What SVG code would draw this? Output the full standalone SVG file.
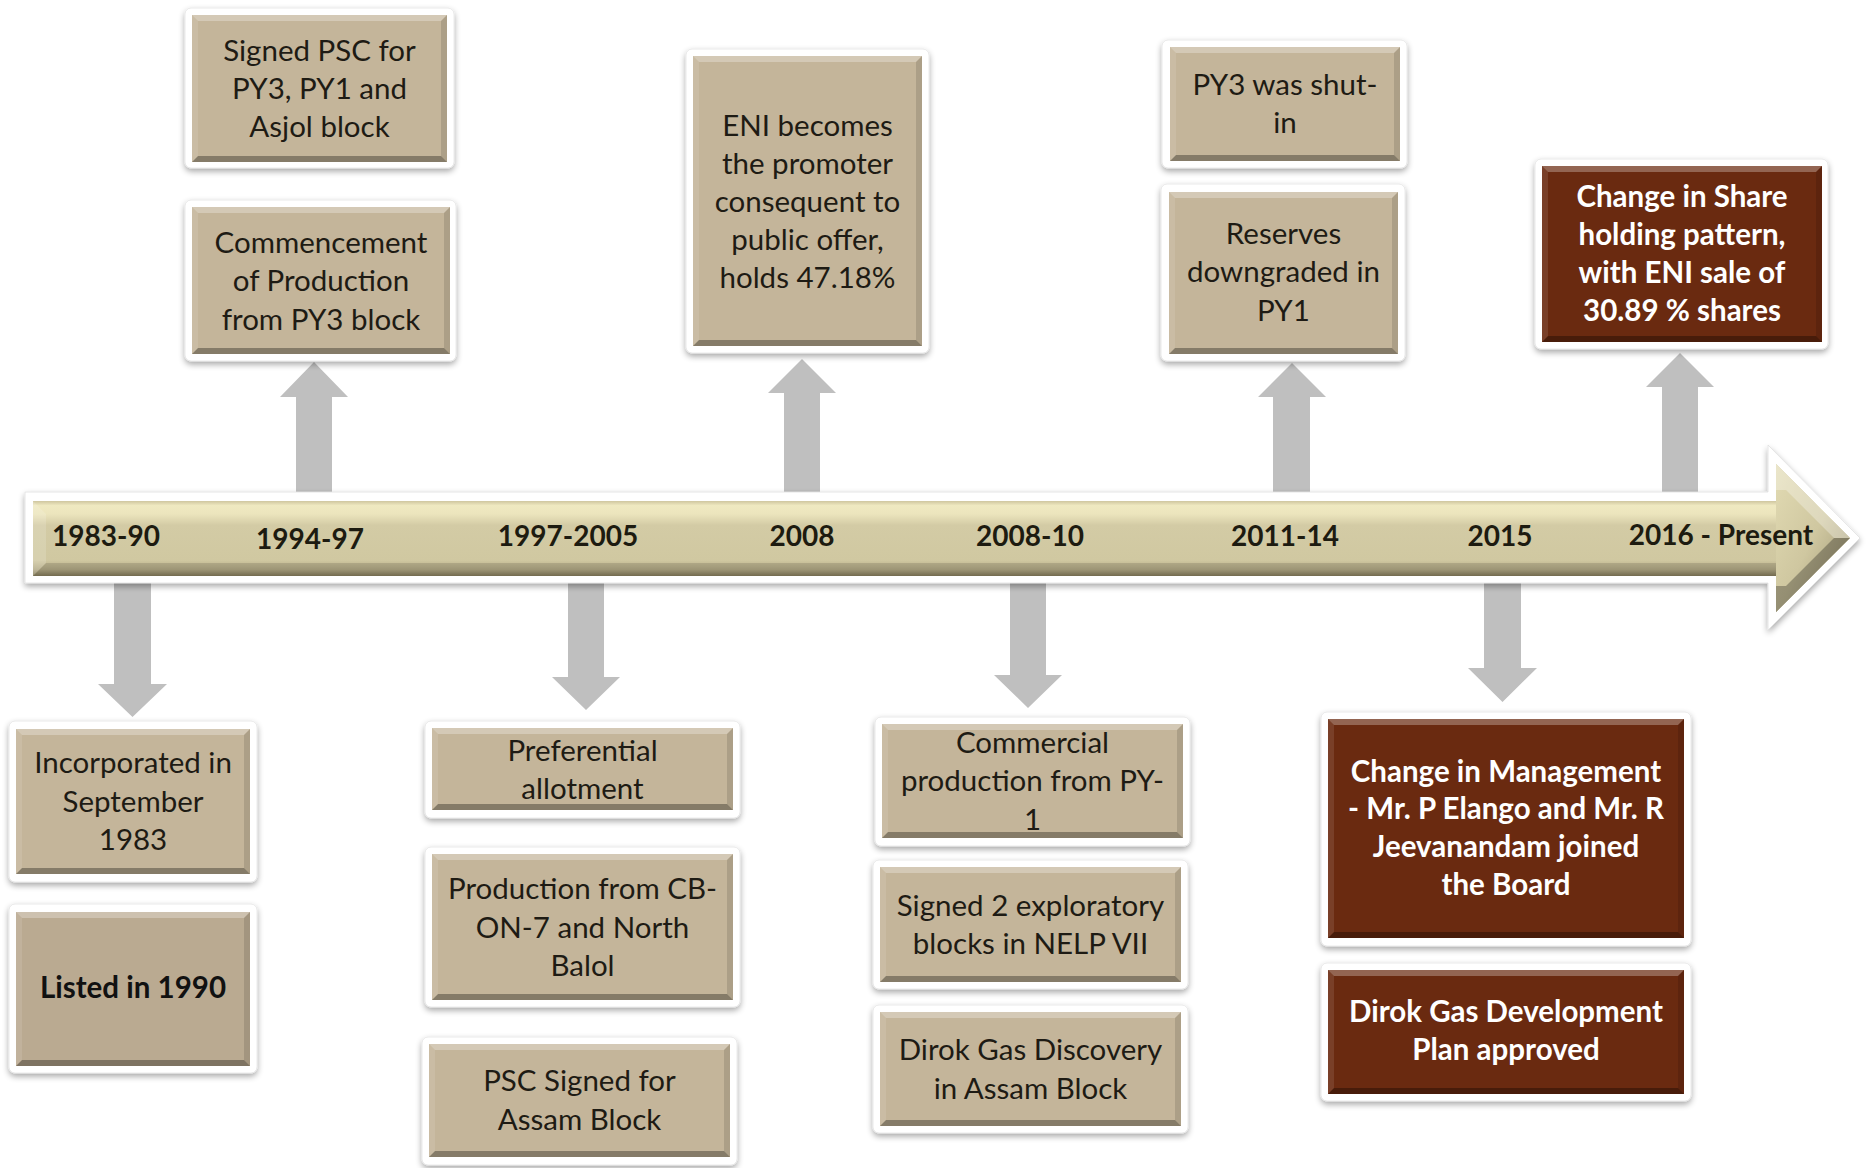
<svg xmlns="http://www.w3.org/2000/svg" width="1874" height="1168" viewBox="0 0 1874 1168">
<defs>
  <filter id="sh" x="-10%" y="-10%" width="120%" height="130%">
    <feGaussianBlur in="SourceAlpha" stdDeviation="3"/>
    <feOffset dx="0" dy="3" result="b"/>
    <feComponentTransfer><feFuncA type="linear" slope="0.35"/></feComponentTransfer>
    <feMerge><feMergeNode/><feMergeNode in="SourceGraphic"/></feMerge>
  </filter>
  <linearGradient id="barG" gradientUnits="userSpaceOnUse" x1="0" y1="501" x2="0" y2="577">
    <stop offset="0" stop-color="#CFC69F"/>
    <stop offset="0.06" stop-color="#EFE9C1"/>
    <stop offset="0.17" stop-color="#ECE5BD"/>
    <stop offset="0.32" stop-color="#D3CBA5"/>
    <stop offset="0.78" stop-color="#D0C8A1"/>
    <stop offset="0.9" stop-color="#B4AB87"/>
    <stop offset="1" stop-color="#7C7354"/>
  </linearGradient>
  <linearGradient id="headG" x1="0" y1="0" x2="1" y2="1">
    <stop offset="0" stop-color="#E2DBB3"/>
    <stop offset="0.5" stop-color="#CFC7A0"/>
    <stop offset="1" stop-color="#9A9170"/>
  </linearGradient>
</defs>
<style>
  .frame{fill:#ffffff;stroke:#e4e4e4;stroke-width:0.8;filter:url(#sh)}
  .tan{fill:#C4B59A}
  .tanB{fill:#BAAA91}
  .brown{fill:#6A2A10}
  .bt{fill:#ffffff;fill-opacity:0.28}
  .bl{fill:#ffffff;fill-opacity:0.10}
  .br{fill:#000000;fill-opacity:0.12}
  .bb{fill:#000000;fill-opacity:0.32}
  .t{font-family:Lato,"Open Sans","Liberation Sans",sans-serif;font-size:29.5px;fill:#1E1B14;text-anchor:middle}
  .tb{font-family:Lato,"Open Sans","Liberation Sans",sans-serif;font-size:29.5px;font-weight:bold;fill:#111111;text-anchor:middle}
  .tw{font-family:Lato,"Open Sans","Liberation Sans",sans-serif;font-size:29.5px;font-weight:bold;fill:#ffffff;text-anchor:middle}
  .yr{font-family:Lato,"Open Sans","Liberation Sans",sans-serif;font-size:28px;font-weight:bold;fill:#1D1B10;text-anchor:middle}
  .arr{fill:#BFBFBF}
</style>
<rect width="1874" height="1168" fill="#ffffff"/>

<g id="connectors">
  <path class="arr" d="M296,505 V397 H280 L314,362 L348,397 H332 V505 Z"/>
  <path class="arr" d="M784,505 V393 H768 L802,359 L836,393 H820 V505 Z"/>
  <path class="arr" d="M1273,505 V397 H1258 L1292,363 L1326,397 H1310 V505 Z"/>
  <path class="arr" d="M1662,505 V387 H1646 L1680,353 L1714,387 H1698 V505 Z"/>
  <path class="arr" d="M114,570 V684 H98 L132.5,717 L167,684 H151 V570 Z"/>
  <path class="arr" d="M568,570 V677 H552 L586,710 L620,677 H604 V570 Z"/>
  <path class="arr" d="M1010,570 V675 H994 L1028,708 L1062,675 H1046 V570 Z"/>
  <path class="arr" d="M1484,570 V668 H1468 L1502.5,702 L1537,668 H1521 V570 Z"/>
</g>

<g id="timeline">
  <path d="M25,492 H1768 V445 L1860,538 L1768,630 V583 H25 Z" fill="#ffffff" stroke="#e0e0e0" stroke-width="0.8" filter="url(#sh)"/>
  <path d="M33,501 H1776 V464 L1850,538 L1776,612 V576 H33 Z" fill="url(#barG)"/>
  <path d="M1776,464 L1850,538 L1776,612 Z" fill="url(#headG)"/>
  <path d="M1776,464 L1850,538 L1834,538 L1786,490 L1776,490 Z" fill="#ffffff" fill-opacity="0.3"/>
  <path d="M1776,612 L1850,538 L1834,538 L1786,586 L1776,586 Z" fill="#000000" fill-opacity="0.28"/>
  <path d="M33,501 L46,514 V563 L33,576 Z" fill="#ffffff" fill-opacity="0.15"/>
  <path d="M33,576 L46,563 H1776 V576 Z" fill="#000000" fill-opacity="0.12"/>
  <text class="yr" x="106" y="546">1983-90</text>
  <text class="yr" x="310" y="549">1994-97</text>
  <text class="yr" x="568" y="546">1997-2005</text>
  <text class="yr" x="802" y="546">2008</text>
  <text class="yr" x="1030" y="546">2008-10</text>
  <text class="yr" x="1285" y="546">2011-14</text>
  <text class="yr" x="1500" y="546">2015</text>
  <text class="yr" x="1721" y="545">2016 - Present</text>
</g>

<g id="n-signed-psc">
  <rect class="frame" x="185" y="8" width="269" height="160" rx="6"/>
  <rect class="tan" x="192" y="15" width="255" height="147"/>
  <path class="bt" d="M192,15 h255 l-6,6 h-243 z"/>
  <path class="bb" d="M192,162 h255 l-6,-6 h-243 z"/>
  <path class="bl" d="M192,15 v147 l6,-6 v-135 z"/>
  <path class="br" d="M447,15 v147 l-6,-6 v-135 z"/>
  <text class="t" x="319.5" y="61">Signed PSC for</text>
  <text class="t" x="319.5" y="99">PY3, PY1 and</text>
  <text class="t" x="319.5" y="137">Asjol block</text>
</g>

<g id="n-commencement">
  <rect class="frame" x="185" y="200" width="271" height="161" rx="6"/>
  <rect class="tan" x="192" y="207" width="258" height="147"/>
  <path class="bt" d="M192,207 h258 l-6,6 h-246 z"/>
  <path class="bb" d="M192,354 h258 l-6,-6 h-246 z"/>
  <path class="bl" d="M192,207 v147 l6,-6 v-135 z"/>
  <path class="br" d="M450,207 v147 l-6,-6 v-135 z"/>
  <text class="t" x="321" y="253">Commencement</text>
  <text class="t" x="321" y="291">of Production</text>
  <text class="t" x="321" y="330">from PY3 block</text>
</g>

<g id="n-eni">
  <rect class="frame" x="686" y="49" width="243" height="304" rx="6"/>
  <rect class="tan" x="693" y="56" width="229" height="290"/>
  <path class="bt" d="M693,56 h229 l-6,6 h-217 z"/>
  <path class="bb" d="M693,346 h229 l-6,-6 h-217 z"/>
  <path class="bl" d="M693,56 v290 l6,-6 v-278 z"/>
  <path class="br" d="M922,56 v290 l-6,-6 v-278 z"/>
  <text class="t" x="807.5" y="136">ENI becomes</text>
  <text class="t" x="807.5" y="174">the promoter</text>
  <text class="t" x="807.5" y="212">consequent to</text>
  <text class="t" x="807.5" y="250">public offer,</text>
  <text class="t" x="807.5" y="288">holds 47.18%</text>
</g>

<g id="n-py3-shut">
  <rect class="frame" x="1162" y="40" width="245" height="128" rx="6"/>
  <rect class="tan" x="1170" y="47" width="230" height="114"/>
  <path class="bt" d="M1170,47 h230 l-6,6 h-218 z"/>
  <path class="bb" d="M1170,161 h230 l-6,-6 h-218 z"/>
  <path class="bl" d="M1170,47 v114 l6,-6 v-102 z"/>
  <path class="br" d="M1400,47 v114 l-6,-6 v-102 z"/>
  <text class="t" x="1285" y="95">PY3 was shut-</text>
  <text class="t" x="1285" y="133">in</text>
</g>

<g id="n-reserves">
  <rect class="frame" x="1161" y="184" width="244" height="177" rx="6"/>
  <rect class="tan" x="1169" y="192" width="229" height="162"/>
  <path class="bt" d="M1169,192 h229 l-6,6 h-217 z"/>
  <path class="bb" d="M1169,354 h229 l-6,-6 h-217 z"/>
  <path class="bl" d="M1169,192 v162 l6,-6 v-150 z"/>
  <path class="br" d="M1398,192 v162 l-6,-6 v-150 z"/>
  <text class="t" x="1283.5" y="244">Reserves</text>
  <text class="t" x="1283.5" y="282">downgraded in</text>
  <text class="t" x="1283.5" y="321">PY1</text>
</g>

<g id="n-share-change">
  <rect class="frame" x="1535" y="159" width="293" height="190" rx="6"/>
  <rect class="brown" x="1542" y="166" width="280" height="176"/>
  <path class="bt" d="M1542,166 h280 l-6,6 h-268 z"/>
  <path class="bb" d="M1542,342 h280 l-6,-6 h-268 z"/>
  <path class="bl" d="M1542,166 v176 l6,-6 v-164 z"/>
  <path class="br" d="M1822,166 v176 l-6,-6 v-164 z"/>
  <text class="tw" x="1682" y="207">Change in Share</text>
  <text class="tw" x="1682" y="245">holding pattern,</text>
  <text class="tw" x="1682" y="283">with ENI sale of</text>
  <text class="tw" x="1682" y="321">30.89 % shares</text>
</g>

<g id="n-incorporated">
  <rect class="frame" x="9" y="721" width="248" height="161" rx="6"/>
  <rect class="tan" x="16" y="729" width="234" height="145"/>
  <path class="bt" d="M16,729 h234 l-6,6 h-222 z"/>
  <path class="bb" d="M16,874 h234 l-6,-6 h-222 z"/>
  <path class="bl" d="M16,729 v145 l6,-6 v-133 z"/>
  <path class="br" d="M250,729 v145 l-6,-6 v-133 z"/>
  <text class="t" x="133" y="773">Incorporated in</text>
  <text class="t" x="133" y="812">September</text>
  <text class="t" x="133" y="850">1983</text>
</g>

<g id="n-listed">
  <rect class="frame" x="9" y="904" width="248" height="169" rx="6"/>
  <rect class="tanB" x="16" y="912" width="234" height="154"/>
  <path class="bt" d="M16,912 h234 l-6,6 h-222 z"/>
  <path class="bb" d="M16,1066 h234 l-6,-6 h-222 z"/>
  <path class="bl" d="M16,912 v154 l6,-6 v-142 z"/>
  <path class="br" d="M250,912 v154 l-6,-6 v-142 z"/>
  <text class="tb" x="133" y="998">Listed in 1990</text>
</g>

<g id="n-preferential">
  <rect class="frame" x="425" y="721" width="315" height="97" rx="6"/>
  <rect class="tan" x="432" y="728" width="301" height="82"/>
  <path class="bt" d="M432,728 h301 l-6,6 h-289 z"/>
  <path class="bb" d="M432,810 h301 l-6,-6 h-289 z"/>
  <path class="bl" d="M432,728 v82 l6,-6 v-70 z"/>
  <path class="br" d="M733,728 v82 l-6,-6 v-70 z"/>
  <text class="t" x="582.5" y="761">Preferential</text>
  <text class="t" x="582.5" y="799">allotment</text>
</g>

<g id="n-production-cb">
  <rect class="frame" x="425" y="847" width="315" height="160" rx="6"/>
  <rect class="tan" x="432" y="854" width="301" height="146"/>
  <path class="bt" d="M432,854 h301 l-6,6 h-289 z"/>
  <path class="bb" d="M432,1000 h301 l-6,-6 h-289 z"/>
  <path class="bl" d="M432,854 v146 l6,-6 v-134 z"/>
  <path class="br" d="M733,854 v146 l-6,-6 v-134 z"/>
  <text class="t" x="582.5" y="899">Production from CB-</text>
  <text class="t" x="582.5" y="938">ON-7 and North</text>
  <text class="t" x="582.5" y="976">Balol</text>
</g>

<g id="n-psc-assam">
  <rect class="frame" x="422" y="1037" width="315" height="128" rx="6"/>
  <rect class="tan" x="429" y="1044" width="301" height="113"/>
  <path class="bt" d="M429,1044 h301 l-6,6 h-289 z"/>
  <path class="bb" d="M429,1157 h301 l-6,-6 h-289 z"/>
  <path class="bl" d="M429,1044 v113 l6,-6 v-101 z"/>
  <path class="br" d="M730,1044 v113 l-6,-6 v-101 z"/>
  <text class="t" x="579.5" y="1091">PSC Signed for</text>
  <text class="t" x="579.5" y="1130">Assam Block</text>
</g>

<g id="n-commercial">
  <rect class="frame" x="875" y="717" width="315" height="129" rx="6"/>
  <rect class="tan" x="882" y="724" width="301" height="114"/>
  <path class="bt" d="M882,724 h301 l-6,6 h-289 z"/>
  <path class="bb" d="M882,838 h301 l-6,-6 h-289 z"/>
  <path class="bl" d="M882,724 v114 l6,-6 v-102 z"/>
  <path class="br" d="M1183,724 v114 l-6,-6 v-102 z"/>
  <text class="t" x="1032.5" y="753">Commercial</text>
  <text class="t" x="1032.5" y="791">production from PY-</text>
  <text class="t" x="1032.5" y="830">1</text>
</g>

<g id="n-signed-2">
  <rect class="frame" x="873" y="860" width="315" height="129" rx="6"/>
  <rect class="tan" x="880" y="867" width="301" height="115"/>
  <path class="bt" d="M880,867 h301 l-6,6 h-289 z"/>
  <path class="bb" d="M880,982 h301 l-6,-6 h-289 z"/>
  <path class="bl" d="M880,867 v115 l6,-6 v-103 z"/>
  <path class="br" d="M1181,867 v115 l-6,-6 v-103 z"/>
  <text class="t" x="1030.5" y="916">Signed 2 exploratory</text>
  <text class="t" x="1030.5" y="954">blocks in NELP VII</text>
</g>

<g id="n-dirok-discovery">
  <rect class="frame" x="873" y="1005" width="315" height="128" rx="6"/>
  <rect class="tan" x="880" y="1012" width="301" height="114"/>
  <path class="bt" d="M880,1012 h301 l-6,6 h-289 z"/>
  <path class="bb" d="M880,1126 h301 l-6,-6 h-289 z"/>
  <path class="bl" d="M880,1012 v114 l6,-6 v-102 z"/>
  <path class="br" d="M1181,1012 v114 l-6,-6 v-102 z"/>
  <text class="t" x="1030.5" y="1060">Dirok Gas Discovery</text>
  <text class="t" x="1030.5" y="1099">in Assam Block</text>
</g>

<g id="n-management">
  <rect class="frame" x="1321" y="712" width="370" height="234" rx="6"/>
  <rect class="brown" x="1328" y="719" width="356" height="219"/>
  <path class="bt" d="M1328,719 h356 l-6,6 h-344 z"/>
  <path class="bb" d="M1328,938 h356 l-6,-6 h-344 z"/>
  <path class="bl" d="M1328,719 v219 l6,-6 v-207 z"/>
  <path class="br" d="M1684,719 v219 l-6,-6 v-207 z"/>
  <text class="tw" x="1506" y="782">Change in Management</text>
  <text class="tw" x="1506" y="819">- Mr. P Elango and Mr. R</text>
  <text class="tw" x="1506" y="857">Jeevanandam joined</text>
  <text class="tw" x="1506" y="895">the Board</text>
</g>

<g id="n-dirok-plan">
  <rect class="frame" x="1321" y="963" width="370" height="138" rx="6"/>
  <rect class="brown" x="1328" y="970" width="356" height="124"/>
  <path class="bt" d="M1328,970 h356 l-6,6 h-344 z"/>
  <path class="bb" d="M1328,1094 h356 l-6,-6 h-344 z"/>
  <path class="bl" d="M1328,970 v124 l6,-6 v-112 z"/>
  <path class="br" d="M1684,970 v124 l-6,-6 v-112 z"/>
  <text class="tw" x="1506" y="1022">Dirok Gas Development</text>
  <text class="tw" x="1506" y="1060">Plan approved</text>
</g>
</svg>
